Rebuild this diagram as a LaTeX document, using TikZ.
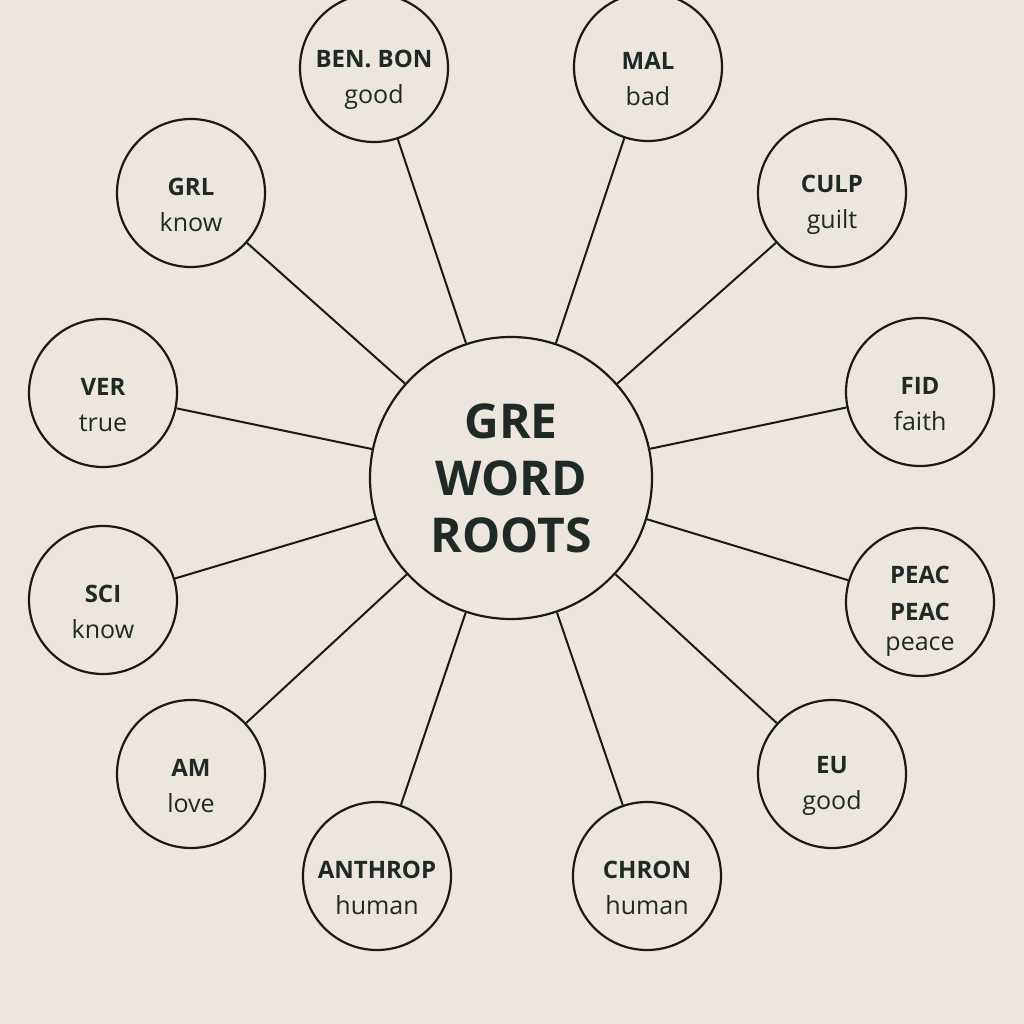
\documentclass[tikz,border=0pt]{standalone}
\usepackage{fontspec}
\setmainfont{Open Sans}
\definecolor{bg}{HTML}{ECE6DE}
\definecolor{ink}{HTML}{1F2A27}
\definecolor{edge}{HTML}{1A1A1A}
\begin{document}
\begin{tikzpicture}[x=1pt,y=-1pt,
  root/.style={circle,draw=edge,line width=2.2pt,minimum size=148pt,inner sep=0pt,text=ink,align=center,font=\fontsize{24}{36}\selectfont},
  hub/.style={circle,draw=edge,line width=2.2pt,minimum size=282pt,inner sep=0pt,text=ink,align=center,font=\fontsize{48}{57}\selectfont\bfseries},
  link/.style={draw=edge,line width=2pt}]
\fill[bg] (0,0) rectangle (1024,1024);
\useasboundingbox (0,0) rectangle (1024,1024);
\node[hub] (c) at (511,478) {GRE\\WORD\\ROOTS};
\newcommand{\rt}[4]{\node[root] (#1) at (#2) {\rule{0pt}{41pt}\textbf{#3}\\{\fontsize{25}{36}\selectfont #4}};}
\rt{ben}{374,68}{BEN. BON}{good}
\rt{mal}{648,67}{MAL}{bad}
\rt{grl}{191,193}{GRL}{know}
\rt{culp}{832,193}{CULP}{guilt}
\rt{ver}{103,393}{VER}{true}
\rt{fid}{920,392}{FID}{faith}
\rt{sci}{103,600}{SCI}{know}
\node[root,font=\fontsize{24}{33}\selectfont] (peac) at (920,602) {\rule{0pt}{36pt}\textbf{PEAC}\\[4pt]\textbf{PEAC}\\[-3pt]{\fontsize{25}{33}\selectfont peace}};
\rt{am}{191,774}{AM}{love}
\rt{eu}{832,774}{EU}{good}
\rt{anth}{377,876}{ANTHROP}{human}
\rt{chron}{647,876}{CHRON}{human}
\foreach \n in {ben,mal,grl,culp,ver,fid,sci,peac,am,eu,anth,chron}
  \draw[link] (c) -- (\n);
\end{tikzpicture}
\end{document}
